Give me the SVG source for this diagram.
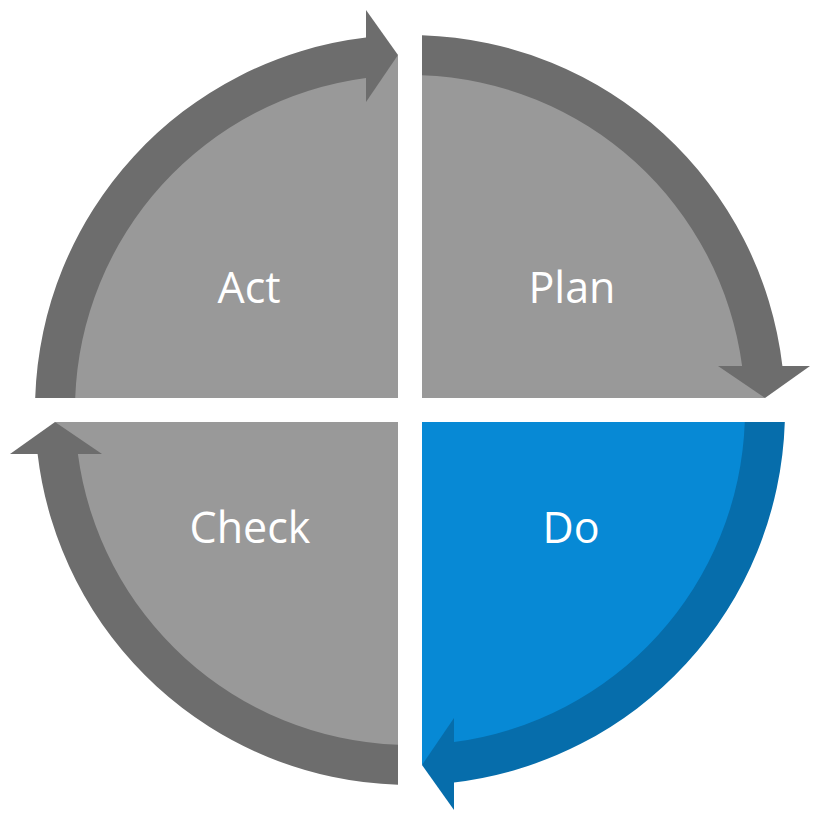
<svg xmlns="http://www.w3.org/2000/svg" width="826" height="827" viewBox="0 0 826 827">
  <style>
    .fill-gray { fill: #999999; }
    .fill-blue { fill: #0789D5; }
    .band-gray { fill: #6D6D6D; }
    .band-blue { fill: #066DAB; }
    .label { font-family: "Open Sans", "Liberation Sans", sans-serif; font-size: 43px; fill: #FFFFFF; text-anchor: middle; }
  </style>
  <rect width="826" height="827" fill="#FFFFFF"/>
  <g id="node-act">
    <path class="fill-gray" d="M398,398 L55.2,398 A355,355 0 0 1 398,55.2 Z"/>
    <text class="label" x="249" y="303">Act</text>
  </g>
  <g id="node-plan">
    <path class="fill-gray" d="M422,398 L422,55.2 A355,355 0 0 1 764.8,398 Z"/>
    <text class="label" x="572" y="303">Plan</text>
  </g>
  <g id="node-do">
    <path class="fill-blue" d="M422,422 L764.8,422 A355,355 0 0 1 422,764.8 Z"/>
    <text class="label" x="571" y="543">Do</text>
  </g>
  <g id="node-check">
    <path class="fill-gray" d="M398,422 L398,764.8 A355,355 0 0 1 55.2,422 Z"/>
    <text class="label" x="250" y="543">Check</text>
  </g>
  <g id="connectors">
    <g id="arrow-act-plan">
      <path class="band-gray" d="M35.19,398 A375,375 0 0 1 366,37.59 L366,77.9 A335,335 0 0 0 75.21,398 Z"/>
      <polygon class="band-gray" points="366,10 398,55 366,102"/>
    </g>
    <g id="arrow-plan-do">
      <path class="band-gray" d="M422,35.19 A375,375 0 0 1 782.41,366 L742.1,366 A335,335 0 0 0 422,75.21 Z"/>
      <polygon class="band-gray" points="810,366 765,398 718,366"/>
    </g>
    <g id="arrow-do-check">
      <path class="band-blue" d="M784.81,422 A375,375 0 0 1 454,782.41 L454,742.1 A335,335 0 0 0 744.79,422 Z"/>
      <polygon class="band-blue" points="454,810 422,765 454,718"/>
    </g>
    <g id="arrow-check-act">
      <path class="band-gray" d="M398,784.81 A375,375 0 0 1 37.59,454 L77.9,454 A335,335 0 0 0 398,744.79 Z"/>
      <polygon class="band-gray" points="10,454 55,422 102,454"/>
    </g>
  </g>
</svg>
